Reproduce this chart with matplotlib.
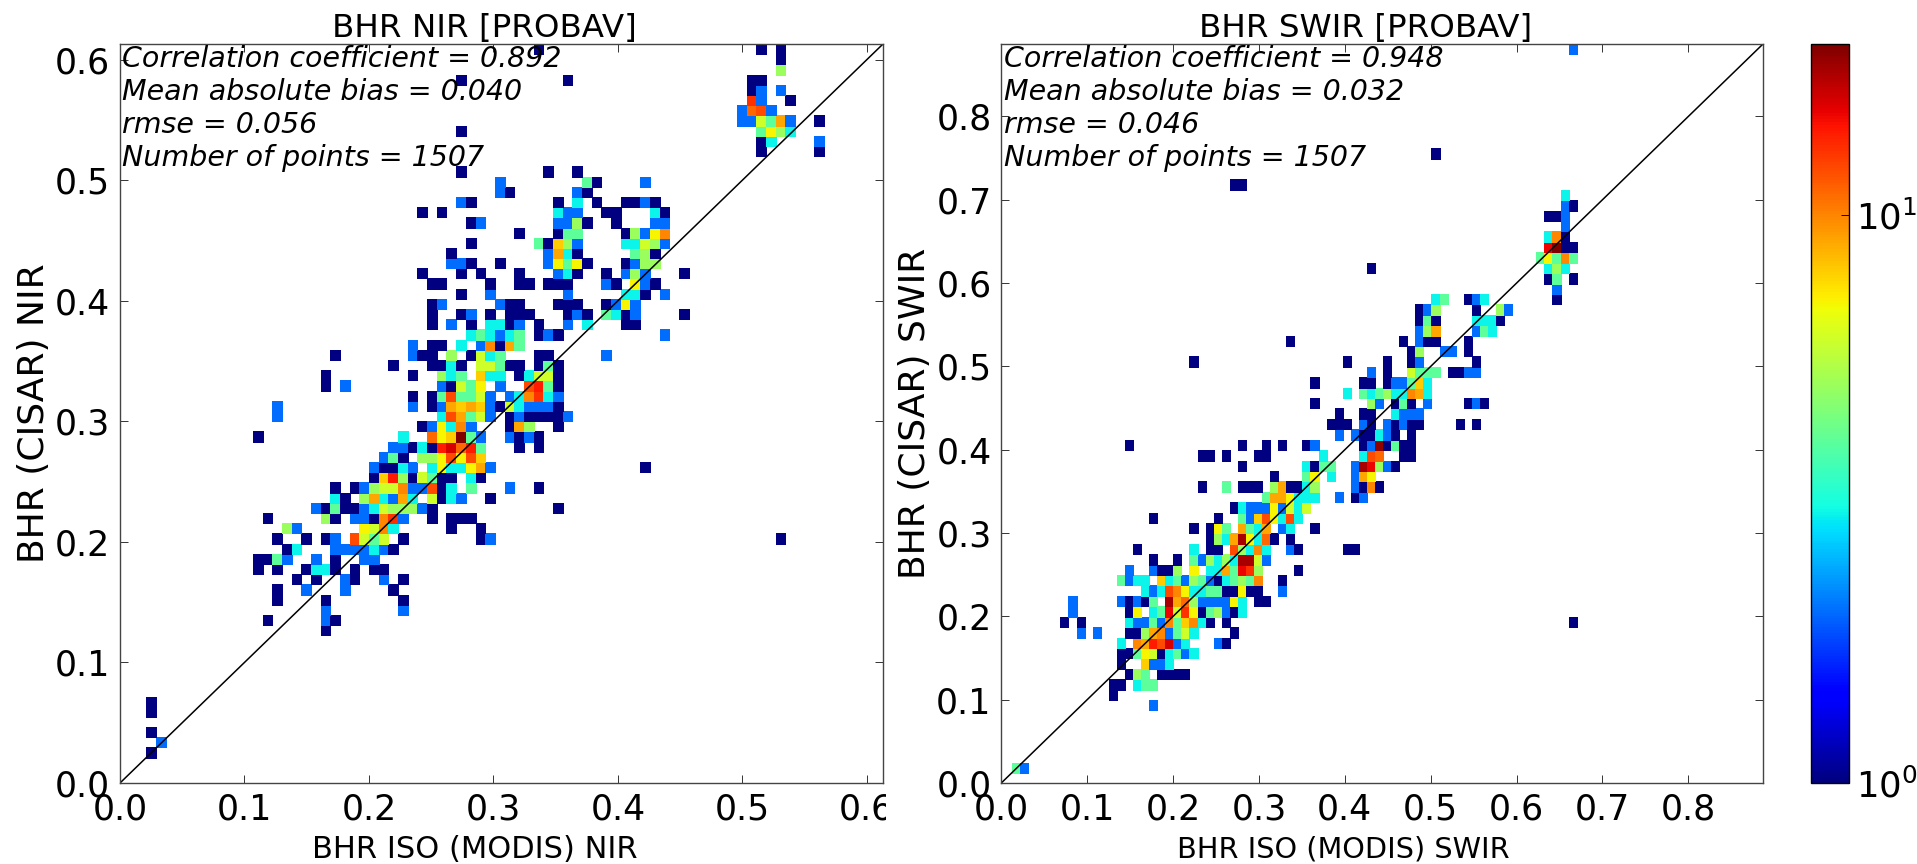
#!/usr/bin/env python
# encoding: utf-8
import numpy as np
import matplotlib
matplotlib.use('Agg')
import matplotlib.pyplot as plt
from matplotlib.colors import LogNorm
from matplotlib.transforms import Bbox

N_BINS = 70

# counts per histogram cell: {row: {column: count}}
nir_counts = {
    0: {0: 1}, 1: {1: 2}, 2: {0: 1}, 4: {0: 1}, 5: {0: 1},
    12: {18: 1},
    13: {12: 1, 18: 2, 19: 1},
    14: {18: 2, 26: 2},
    15: {13: 1, 18: 1, 26: 1},
    16: {13: 1, 16: 2, 20: 2, 25: 1},
    17: {15: 1, 17: 1, 20: 2, 21: 1, 24: 2, 26: 1},
    18: {11: 1, 13: 1, 16: 1, 17: 3, 18: 3, 19: 1, 21: 1, 23: 1, 24: 1},
    19: {11: 1, 12: 1, 13: 4, 14: 2, 17: 2, 19: 1, 22: 2, 23: 2},
    20: {14: 1, 15: 3, 19: 2, 20: 2, 21: 2, 22: 2, 23: 3, 24: 2, 25: 1},
    21: {13: 1, 16: 1, 18: 1, 19: 2, 21: 12, 22: 6, 23: 4, 24: 6, 26: 1, 34: 1, 35: 2, 65: 1},
    22: {14: 5, 15: 2, 22: 7, 23: 6, 24: 10, 25: 3, 31: 1, 34: 1},
    23: {12: 1, 18: 5, 19: 1, 21: 2, 22: 2, 23: 1, 24: 10, 25: 13, 26: 2, 29: 1, 31: 1, 32: 1, 33: 1},
    24: {17: 2, 18: 1, 19: 4, 20: 1, 21: 1, 22: 2, 23: 3, 24: 6, 25: 5, 26: 5, 27: 5, 28: 2, 29: 1, 42: 1},
    25: {19: 3, 20: 1, 22: 5, 23: 9, 24: 3, 25: 2, 26: 9, 27: 3, 29: 6, 30: 1, 31: 3, 32: 2, 35: 1},
    26: {19: 1, 21: 1, 22: 2, 23: 5, 24: 6, 25: 6, 26: 10, 27: 2, 28: 2, 29: 12, 30: 1, 31: 3, 33: 4, 37: 2, 40: 1},
    27: {23: 1, 24: 8, 25: 14, 26: 5, 27: 1, 28: 6, 29: 4, 30: 1, 31: 1, 33: 3, 34: 1},
    28: {23: 2, 24: 1, 25: 1, 26: 3, 27: 2, 29: 3, 30: 7, 31: 3, 32: 3, 33: 7, 34: 9, 35: 2, 51: 1},
    29: {24: 2, 25: 4, 26: 1, 28: 5, 29: 5, 30: 7, 31: 12, 32: 7, 33: 12, 34: 8},
    30: {25: 2, 26: 2, 27: 1, 28: 3, 29: 1, 30: 14, 31: 16, 32: 11, 33: 14, 34: 4, 38: 1, 40: 1},
    31: {11: 1, 26: 3, 29: 11, 30: 7, 31: 8, 32: 20, 33: 4, 34: 2, 37: 2, 38: 1, 39: 2, 40: 1},
    32: {28: 1, 29: 2, 30: 7, 31: 3, 32: 10, 33: 2, 37: 1, 38: 9, 39: 5, 42: 1},
    33: {13: 2, 30: 3, 31: 12, 32: 9, 33: 4, 34: 6, 35: 2, 37: 1, 38: 2, 39: 1, 40: 1, 41: 1, 42: 1, 43: 2},
    34: {13: 2, 27: 2, 29: 1, 30: 2, 31: 9, 32: 8, 33: 9, 34: 8, 35: 2, 36: 1, 37: 6, 38: 3, 39: 2, 40: 2, 41: 2, 42: 1},
    35: {27: 1, 29: 1, 30: 4, 31: 12, 32: 4, 33: 4, 34: 6, 35: 2, 37: 2, 38: 3, 39: 10, 40: 13, 41: 3, 42: 2},
    36: {18: 1, 20: 2, 30: 2, 31: 1, 32: 6, 33: 4, 34: 7, 36: 2, 39: 12, 40: 14, 41: 4, 42: 1},
    37: {18: 1, 27: 1, 30: 5, 31: 3, 32: 4, 34: 8, 35: 3, 36: 3, 38: 1, 39: 3, 40: 6, 41: 6, 42: 1},
    38: {25: 1, 29: 1, 30: 1, 31: 3, 32: 1, 34: 6, 35: 6, 36: 4, 37: 1, 38: 1, 40: 1, 41: 4, 42: 1},
    39: {19: 1, 27: 2, 28: 1, 29: 1, 31: 5, 33: 1, 34: 6, 35: 3, 36: 4, 40: 1, 41: 1, 47: 2},
    40: {27: 2, 29: 1, 30: 1, 32: 3, 34: 2, 35: 10, 36: 1, 37: 9, 38: 4},
    41: {33: 3, 34: 4, 35: 3, 36: 2, 37: 3, 38: 4, 40: 1, 41: 2, 42: 1, 53: 2},
    42: {29: 1, 31: 2, 33: 1, 35: 3, 36: 3, 37: 1, 38: 2, 40: 1, 43: 2, 45: 3, 49: 1, 50: 1},
    43: {29: 1, 32: 1, 33: 2, 35: 1, 37: 1, 38: 1, 39: 1, 43: 1, 44: 2, 45: 1, 47: 4, 48: 3, 49: 1, 50: 2, 55: 1},
    44: {29: 1, 30: 2, 36: 2, 37: 1, 38: 1, 42: 1, 43: 1, 44: 1, 47: 1, 48: 2, 49: 7, 50: 2},
    45: {32: 1, 35: 2, 43: 2, 49: 3, 50: 3, 51: 1, 53: 2},
    46: {29: 1, 30: 1, 35: 1, 38: 1, 39: 1, 41: 1, 42: 1, 43: 1, 47: 2, 48: 1, 50: 7, 51: 2, 52: 1},
    47: {28: 1, 32: 1, 34: 1, 38: 1, 42: 2, 43: 3, 44: 1, 47: 1, 49: 2, 50: 5, 51: 2, 55: 1},
    48: {31: 2, 32: 2, 33: 1, 36: 1, 41: 2, 42: 7, 43: 4, 44: 7, 45: 1, 49: 1, 50: 2, 51: 5, 52: 5},
    49: {31: 1, 41: 2, 42: 9, 43: 3, 44: 1, 50: 4, 51: 5, 52: 1},
    50: {33: 1, 40: 4, 41: 1, 42: 8, 43: 5, 44: 2, 49: 3, 50: 3, 51: 6, 52: 5, 53: 2},
    51: {38: 1, 42: 1, 43: 4, 44: 4, 49: 1, 50: 5, 51: 2, 52: 7, 53: 10},
    52: {33: 1, 34: 2, 42: 2, 43: 2, 44: 5, 45: 1, 48: 1, 52: 2, 53: 2},
    53: {28: 1, 30: 1, 42: 3, 43: 2, 44: 2, 47: 1, 48: 1, 52: 3, 53: 1},
    54: {32: 2, 33: 1, 42: 1, 44: 3, 46: 1, 49: 1, 50: 1, 51: 2, 52: 1},
    55: {36: 2, 37: 1, 44: 2, 45: 1},
    56: {36: 2, 45: 4, 46: 1, 51: 2},
    57: {32: 1, 41: 1, 44: 1},
    59: {63: 1, 69: 1},
    60: {63: 1, 64: 3, 69: 2},
    61: {32: 1, 63: 4, 64: 7, 65: 5, 66: 3},
    62: {61: 2, 62: 2, 63: 6, 64: 4, 65: 9, 66: 2, 69: 1},
    63: {61: 2, 62: 11, 63: 12, 64: 2},
    64: {62: 13, 63: 2, 66: 1},
    65: {62: 1, 63: 2, 65: 2},
    66: {32: 1, 43: 1, 62: 1, 63: 1},
    67: {65: 5}, 68: {65: 1},
    69: {40: 1, 63: 1, 65: 1},
}

swir_counts = {
    0: {0: 4, 1: 2},
    6: {17: 2},
    7: {12: 1},
    8: {12: 1, 13: 1, 15: 3, 16: 4, 17: 4},
    9: {14: 1, 15: 5, 16: 4, 18: 1, 19: 1, 20: 1, 21: 1},
    10: {13: 1, 16: 8, 17: 2, 18: 2, 19: 3},
    11: {13: 1, 14: 1, 15: 4, 16: 7, 17: 6, 18: 1, 19: 3, 20: 4, 21: 2, 22: 3},
    12: {13: 3, 15: 10, 16: 9, 17: 14, 18: 12, 19: 16, 20: 2, 21: 3, 25: 2, 26: 1},
    13: {8: 2, 10: 2, 14: 1, 15: 1, 16: 5, 17: 9, 18: 10, 19: 2, 20: 4, 21: 6, 22: 3, 27: 1},
    14: {6: 1, 8: 1, 14: 3, 15: 2, 16: 2, 17: 4, 18: 2, 19: 10, 20: 4, 21: 8, 22: 10, 23: 3, 24: 1, 26: 1, 69: 1},
    15: {7: 2, 14: 1, 15: 7, 17: 3, 18: 4, 19: 15, 20: 6, 21: 13, 22: 7, 23: 1, 24: 4, 25: 5, 26: 2, 27: 1, 28: 3},
    16: {7: 2, 13: 2, 14: 1, 15: 2, 16: 1, 17: 4, 19: 18, 20: 9, 21: 11, 22: 5, 23: 2, 24: 2, 25: 2, 26: 2, 27: 7, 28: 3, 30: 1, 31: 1},
    17: {16: 3, 17: 2, 18: 3, 19: 12, 20: 10, 21: 7, 22: 3, 23: 3, 24: 4, 25: 4, 26: 1, 27: 1, 28: 7, 29: 1, 30: 1, 33: 2},
    18: {13: 4, 14: 2, 15: 3, 16: 3, 18: 8, 19: 3, 20: 4, 21: 2, 22: 5, 23: 4, 24: 2, 25: 1, 26: 3, 27: 4, 28: 5, 29: 4, 30: 10, 33: 1},
    19: {14: 2, 17: 2, 18: 1, 19: 1, 20: 5, 22: 7, 24: 3, 25: 3, 26: 9, 27: 4, 28: 15, 29: 13, 30: 5, 35: 1},
    20: {17: 1, 20: 1, 22: 4, 23: 2, 24: 5, 25: 3, 26: 5, 27: 3, 28: 18, 29: 18, 30: 6, 31: 2},
    21: {15: 1, 22: 3, 24: 1, 25: 1, 27: 12, 28: 5, 29: 3, 30: 10, 31: 3, 34: 2, 35: 1, 41: 1, 42: 1},
    22: {24: 1, 25: 5, 26: 3, 27: 9, 28: 18, 29: 7, 30: 3, 31: 11, 32: 1, 34: 1},
    23: {22: 1, 24: 1, 25: 7, 26: 4, 28: 9, 29: 4, 30: 3, 31: 9, 33: 2, 34: 3, 37: 1},
    24: {17: 1, 25: 1, 28: 4, 29: 2, 30: 8, 31: 12, 32: 7, 33: 3, 34: 12, 35: 3},
    25: {27: 1, 28: 3, 29: 2, 30: 2, 31: 2, 32: 7, 33: 2, 34: 6, 35: 3, 36: 6},
    26: {31: 4, 32: 9, 33: 9, 34: 7, 35: 3, 36: 3, 37: 3, 40: 2, 42: 1, 43: 2},
    27: {23: 1, 26: 4, 28: 1, 29: 1, 30: 1, 32: 5, 33: 9, 34: 1, 35: 1, 36: 3, 37: 5, 42: 2, 43: 1, 44: 10, 45: 1},
    28: {32: 1, 36: 4, 37: 7, 39: 3, 42: 2, 43: 9, 44: 7},
    29: {28: 1, 36: 3, 37: 1, 38: 4, 39: 4, 42: 2, 43: 18, 44: 15, 45: 5, 46: 2, 47: 1},
    30: {23: 1, 24: 1, 26: 1, 30: 1, 31: 1, 38: 3, 43: 3, 44: 12, 45: 11, 48: 1, 49: 1},
    31: {14: 1, 28: 1, 31: 1, 33: 1, 36: 1, 37: 2, 43: 1, 44: 2, 45: 19, 46: 1, 47: 4, 48: 1, 49: 1},
    32: {40: 2, 42: 2, 43: 1, 44: 1, 45: 3, 46: 2, 47: 1, 49: 1},
    33: {39: 1, 40: 1, 41: 1, 43: 2, 44: 1, 46: 2, 47: 1, 48: 2, 49: 1, 50: 1, 55: 1, 57: 1},
    34: {40: 1, 43: 1, 44: 1, 47: 3, 48: 2, 49: 2, 50: 2},
    35: {37: 1, 44: 5, 45: 2, 47: 1, 48: 4, 49: 1, 51: 2, 56: 1, 57: 2, 58: 1},
    36: {41: 3, 43: 4, 44: 3, 45: 4, 46: 5, 47: 3, 48: 3, 49: 10, 50: 9, 51: 3},
    37: {37: 1, 43: 1, 44: 1, 46: 1, 47: 2, 48: 2, 49: 4, 50: 8, 51: 3},
    38: {44: 2, 46: 1, 49: 6, 50: 4, 51: 4, 52: 4, 54: 1, 55: 1, 56: 2, 57: 2},
    39: {22: 1, 41: 1, 46: 1, 49: 1, 50: 2, 57: 1},
    40: {49: 1, 50: 5, 53: 2, 54: 2, 56: 1},
    41: {34: 1, 48: 1, 50: 2, 51: 1, 52: 1, 56: 1},
    42: {50: 2, 51: 5, 52: 9, 57: 2, 58: 4, 59: 3},
    43: {50: 1, 51: 4, 52: 1, 57: 3, 58: 3, 59: 3, 60: 1},
    44: {50: 1, 51: 2, 52: 5, 57: 1, 60: 5, 61: 2},
    45: {52: 3, 53: 4, 56: 1, 57: 2, 58: 3, 67: 1},
    46: {67: 2},
    47: {66: 1, 67: 4, 69: 1},
    48: {44: 1, 66: 3, 67: 5, 68: 3},
    49: {65: 4, 66: 7, 67: 4, 68: 10, 69: 4},
    50: {66: 15, 67: 20, 68: 1, 69: 1},
    51: {66: 3, 67: 10, 68: 1},
    52: {68: 2},
    53: {66: 1, 67: 1, 68: 2},
    54: {68: 2, 69: 1},
    55: {68: 3},
    56: {27: 1, 28: 1},
    59: {52: 1},
    69: {69: 2},
}

# histogram ranges (min, max) on each axis
nir_xrange = [0.02114, 0.5657]
nir_yrange = [0.0210, 0.6130]
swir_xrange = [0.01246, 0.6700]
swir_yrange = [0.0121, 0.8870]

nir_lim = 0.613
swir_lim = 0.887

nir_stats = ['Correlation coefficient = 0.892', 'Mean absolute bias = 0.040',
             'rmse = 0.056', 'Number of points = 1507']
swir_stats = ['Correlation coefficient = 0.948', 'Mean absolute bias = 0.032',
              'rmse = 0.046', 'Number of points = 1507']

W, H = 1917., 864.
norm = LogNorm(vmin=1, vmax=20)


def to_grid(counts):
    grid = np.zeros((N_BINS, N_BINS))
    for row, cells in counts.items():
        for col, n in cells.items():
            grid[row, col] = n
    return np.ma.masked_equal(grid, 0)


def panel(box, counts, xrange_, yrange_, lim, stats, title, xlabel, ylabel, xlabel_size, xlabel_shift):
    ax = fig.add_axes([box[0] / W, 1 - box[3] / H, (box[2] - box[0]) / W, (box[3] - box[1]) / H])
    xe = np.linspace(xrange_[0], xrange_[1], N_BINS + 1)
    ye = np.linspace(yrange_[0], yrange_[1], N_BINS + 1)
    mesh = ax.pcolormesh(xe, ye, to_grid(counts), cmap='jet', norm=norm,
                         edgecolors='face', linewidth=0.5)
    ax.plot([0, lim], [0, lim], color='k', lw=1.1)
    ax.set_xlim(0, lim)
    ax.set_ylim(0, lim)
    ax.set_xticks(np.arange(0, lim, 0.1))
    ax.set_yticks(np.arange(0, lim, 0.1))
    ax.tick_params(direction='in', top=True, right=True, labelsize=25, length=6, width=0.7, pad=7,
                   color='#333333')
    for s in ax.spines.values():
        s.set_linewidth(1.0)
        s.set_color('#444444')
    ax.set_title(title, fontsize=23.4, pad=5, x=0.5 - 17 / 763)
    ax.set_xlabel(xlabel, fontsize=xlabel_size, labelpad=6, x=0.5 - xlabel_shift / 763)
    ax.set_ylabel(ylabel, fontsize=26, labelpad=3)
    ax.text(0.003, 0.998, '\n'.join(stats), transform=ax.transAxes, ha='left', va='top',
            fontsize=20.5, style='italic', linespacing=1.22)
    return ax, mesh


fig = plt.figure(figsize=(W / 100, H / 100), dpi=100)

ax1, mesh = panel([120, 44, 883, 783], nir_counts, nir_xrange, nir_yrange, nir_lim, nir_stats,
                  'BHR NIR [PROBAV]', 'BHR ISO (MODIS) NIR', 'BHR (CISAR) NIR', 22, 27)
panel([1001.3, 44, 1763, 783], swir_counts, swir_xrange, swir_yrange, swir_lim, swir_stats,
      'BHR SWIR [PROBAV]', 'BHR ISO (MODIS) SWIR', 'BHR (CISAR) SWIR', 20.7, 39)

# the last x label of the left panel is cut off at the edge of its subplot
fig.canvas.draw()
last = ax1.get_xticklabels()[-1]
last.set_clip_box(Bbox([[0, 0], [885.7, H]]))
last.set_clip_on(True)

cax = fig.add_axes([1810.7 / W, 1 - 783 / H, 38 / W, 739 / H])
cb = fig.colorbar(mesh, cax=cax)
cb.ax.tick_params(which='major', direction='in', labelsize=25.5, length=6, width=0.7, pad=5)
cb.ax.tick_params(which='minor', length=0)
cb.outline.set_linewidth(1.0)

plt.savefig('out.png', dpi=100)
